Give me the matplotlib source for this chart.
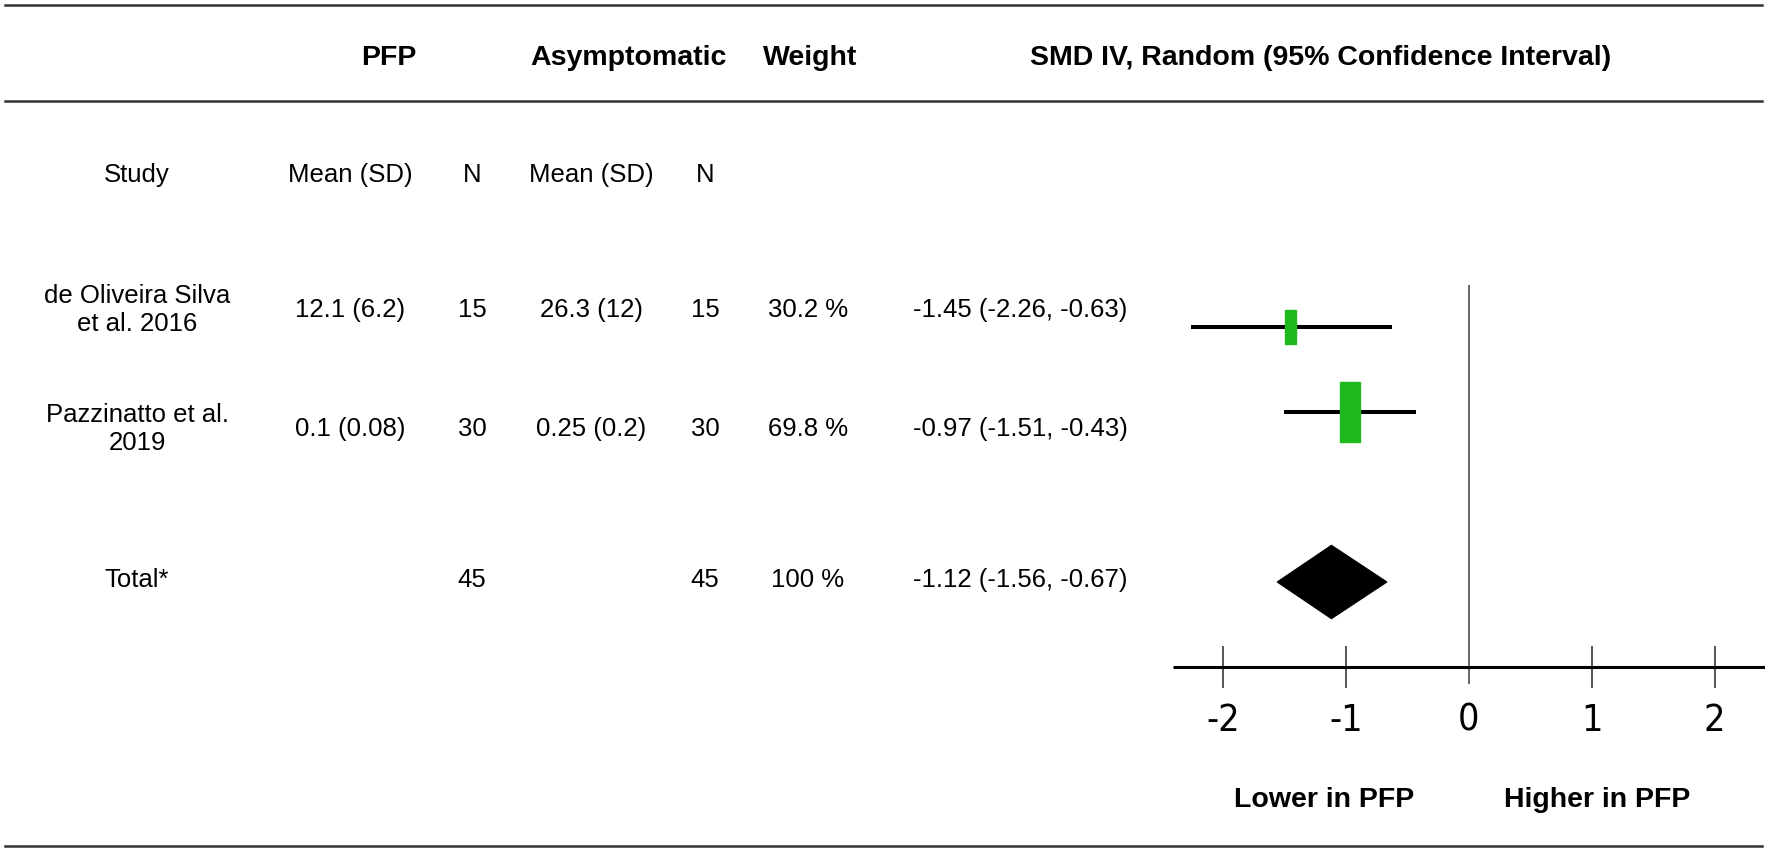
import matplotlib
matplotlib.use('Agg')
import matplotlib.pyplot as plt
from matplotlib.patches import Rectangle, Polygon
from matplotlib.lines import Line2D

plt.rcParams['font.family'] = ['Liberation Sans', 'DejaVu Sans']

# table data
studies = ['de Oliveira Silva\net al. 2016', 'Pazzinatto et al.\n2019']
pfp_mean_sd = ['12.1 (6.2)', '0.1 (0.08)']
pfp_n = [15, 30]
asym_mean_sd = ['26.3 (12)', '0.25 (0.2)']
asym_n = [15, 30]
weights = [30.2, 69.8]
smd = [-1.45, -0.97]
ci_low = [-2.26, -1.51]
ci_high = [-0.63, -0.43]

total_label = 'Total*'
total_n_pfp = 45
total_n_asym = 45
total_weight = 100
total_smd = -1.12
total_low = -1.56
total_high = -0.67

xticks = [-2, -1, 0, 1, 2]

W, H = 1772, 853
fig = plt.figure(figsize=(W / 100, H / 100), dpi=100)
fig.patch.set_facecolor('white')


def fx(px):
    return px / W


def fy(py):
    return 1 - py / H


# horizontal rules
for py in [6, 102, 847]:
    fig.add_artist(Line2D([fx(5), fx(1762)], [fy(py), fy(py)], color='#333333', lw=1.8))

# header
hdr = dict(fontsize=20.5, fontweight='bold', ha='center', va='center')
fig.text(fx(389), fy(58), 'PFP', **hdr)
fig.text(fx(628), fy(58), 'Asymptomatic', **hdr)
fig.text(fx(810), fy(58), 'Weight', **hdr)
fig.text(fx(1321), fy(58), 'SMD IV, Random (95% Confidence Interval)', **hdr)

reg = dict(fontsize=18.5, ha='center', va='center')
cols = [137, 350, 472, 591, 705, 808, 1020]
sub = ['Study', 'Mean (SD)', 'N', 'Mean (SD)', 'N']
for x, s in zip(cols, sub):
    fig.text(fx(x), fy(175), s, **reg)

row_y = [310, 429]
for i in range(len(studies)):
    vals = [studies[i], pfp_mean_sd[i], str(pfp_n[i]), asym_mean_sd[i], str(asym_n[i]),
            '%.1f %%' % weights[i],
            '%.2f (%.2f, %.2f)' % (smd[i], ci_low[i], ci_high[i])]
    for x, s in zip(cols, vals):
        fig.text(fx(x), fy(row_y[i]), s, linespacing=1.2, **reg)

tot = [total_label, '', str(total_n_pfp), '', str(total_n_asym), '%d %%' % total_weight,
       '%.2f (%.2f, %.2f)' % (total_smd, total_low, total_high)]
for x, s in zip(cols, tot):
    if s:
        fig.text(fx(x), fy(580), s, **reg)

# forest plot
ax = fig.add_axes([fx(1173), fy(753), fx(1765) - fx(1173), (753 - 243) / H])
ax.set_xlim(-2.41, 2.41)
ax.set_ylim(5, -1)
ax.axis('off')

axis_y = 4
ax.vlines(0, -0.5, 4.2, color='#666666', lw=1.4, zorder=1)
for t in xticks:
    if t != 0:
        ax.vlines(t, 3.75, 4.25, color='#555555', lw=1.4, zorder=1)
    ax.text(t, 4.62, str(t), ha='center', va='center', fontsize=27,
            family=['DejaVu Sans'], fontstretch='condensed', fontweight='light')
ax.plot([-2.41, 2.41], [axis_y, axis_y], color='black', lw=2.2, solid_capstyle='butt', zorder=2)

for i in range(len(studies)):
    ax.plot([ci_low[i], ci_high[i]], [i, i], color='black', lw=2.9, solid_capstyle='butt', zorder=2)
    rel = (weights[i] / 100) ** 0.7
    bw, bh = 0.21 * rel, 0.91 * rel
    ax.add_patch(Rectangle((smd[i] - bw / 2, i - bh / 2), bw, bh, color='#1db91d', zorder=3))

dy = 0.43
ax.add_patch(Polygon([(total_low, 3), (total_smd, 3 - dy), (total_high, 3), (total_smd, 3 + dy)],
                     closed=True, color='black'))

ax.text(-1.18, 5.55, 'Lower in PFP', ha='center', va='center', fontsize=20.5, fontweight='bold',
        clip_on=False)
ax.text(1.04, 5.55, 'Higher in PFP', ha='center', va='center', fontsize=20.5, fontweight='bold',
        clip_on=False)

fig.savefig('out.png', dpi=100)
